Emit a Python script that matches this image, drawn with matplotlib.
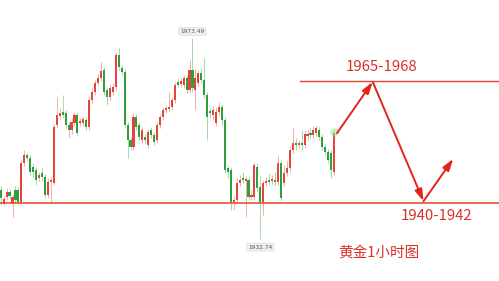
"""Gold 1h candlestick sketch with target arrows."""
import matplotlib

matplotlib.use("Agg")
import matplotlib.pyplot as plt
import numpy as np

# OHLC, one entry per hourly candle
opens = [
    1942.7, 1940.0, 1941.3, 1942.3, 1940.0, 1942.7, 1942.7, 1940.2, 1948.2, 1949.8,
    1949.2, 1947.3, 1946.7, 1945.1, 1946.1, 1945.3, 1941.7, 1944.3, 1944.1, 1955.9,
    1957.7, 1958.5, 1958.3, 1955.9, 1954.8, 1956.3, 1957.9, 1956.3, 1956.3, 1956.9,
    1955.5, 1960.9, 1962.5, 1964.4, 1965.4, 1967.0, 1962.9, 1961.5, 1962.5, 1963.6,
    1970.0, 1967.4, 1966.6, 1955.9, 1952.8, 1951.4, 1957.5, 1955.9, 1952.8, 1953.4,
    1951.8, 1954.8, 1953.8, 1952.8, 1955.9, 1957.5, 1958.9, 1959.1, 1959.5, 1960.9,
    1964.6, 1964.2, 1964.0, 1965.4, 1962.9, 1967.0, 1962.9, 1964.4, 1966.4, 1965.0,
    1961.9, 1958.5, 1957.9, 1956.3, 1958.5, 1959.5, 1956.9, 1947.1, 1946.7, 1940.2,
    1940.7, 1944.1, 1945.1, 1944.5, 1944.7, 1941.3, 1941.3, 1947.3, 1943.3, 1940.2,
    1944.1, 1944.7, 1944.5, 1944.7, 1944.3, 1948.2, 1944.1, 1946.1, 1947.1, 1950.8,
    1952.2, 1951.8, 1952.0, 1951.8, 1953.6, 1954.2, 1953.8, 1954.2, 1954.8, 1953.4,
    1951.4, 1950.4, 1950.2, 1946.3,
]
closes = [
    1941.1, 1940.9, 1942.3, 1941.5, 1941.3, 1940.7, 1940.2, 1948.2, 1949.8, 1949.2,
    1946.3, 1946.3, 1944.7, 1945.7, 1945.3, 1941.7, 1944.3, 1944.7, 1955.5, 1957.9,
    1958.3, 1957.9, 1955.9, 1954.8, 1956.5, 1957.9, 1954.2, 1956.5, 1957.1, 1955.5,
    1960.9, 1962.5, 1964.4, 1965.4, 1966.8, 1962.5, 1961.5, 1963.4, 1963.6, 1970.0,
    1967.6, 1966.6, 1955.9, 1952.8, 1951.4, 1957.5, 1955.5, 1953.4, 1954.8, 1952.8,
    1954.4, 1953.8, 1952.4, 1955.9, 1957.5, 1958.9, 1959.3, 1959.5, 1960.9, 1964.0,
    1964.0, 1964.8, 1965.4, 1962.9, 1967.0, 1963.4, 1965.4, 1966.4, 1965.0, 1961.9,
    1957.5, 1958.3, 1958.9, 1958.5, 1959.5, 1956.9, 1946.7, 1946.3, 1940.2, 1940.7,
    1944.1, 1944.7, 1944.7, 1944.7, 1941.3, 1941.7, 1947.7, 1943.1, 1940.2, 1944.1,
    1944.5, 1944.3, 1944.7, 1944.3, 1948.2, 1941.1, 1946.1, 1947.1, 1950.8, 1952.2,
    1951.8, 1952.0, 1951.8, 1954.0, 1954.0, 1953.8, 1954.8, 1955.2, 1953.4, 1951.4,
    1950.4, 1948.8, 1946.7, 1954.2,
]
highs = [
    1943.5, 1941.5, 1943.1, 1942.9, 1941.9, 1943.5, 1943.3, 1948.8, 1950.8, 1950.4,
    1949.8, 1948.2, 1947.3, 1946.3, 1947.3, 1945.9, 1945.1, 1945.3, 1956.1, 1961.5,
    1959.3, 1961.9, 1958.9, 1956.5, 1957.3, 1958.5, 1958.5, 1957.3, 1957.7, 1957.5,
    1961.5, 1963.4, 1965.0, 1966.2, 1968.6, 1967.6, 1963.6, 1964.2, 1964.4, 1970.7,
    1971.5, 1968.0, 1967.2, 1956.5, 1953.4, 1958.3, 1958.1, 1956.5, 1955.5, 1954.0,
    1955.0, 1955.5, 1954.4, 1956.5, 1958.1, 1959.5, 1959.9, 1962.5, 1961.5, 1964.6,
    1965.2, 1965.4, 1966.0, 1966.0, 1969.0, 1973.49, 1967.4, 1967.0, 1967.4, 1969.4,
    1962.5, 1959.3, 1959.7, 1959.3, 1960.5, 1960.1, 1957.5, 1947.7, 1947.3, 1941.5,
    1945.1, 1945.7, 1946.3, 1945.5, 1945.3, 1942.7, 1948.4, 1948.2, 1945.7, 1944.7,
    1945.3, 1946.1, 1945.7, 1946.3, 1949.8, 1948.8, 1947.7, 1948.8, 1951.6, 1955.2,
    1953.2, 1952.8, 1954.8, 1954.8, 1954.8, 1955.2, 1955.7, 1955.9, 1955.5, 1954.0,
    1952.0, 1951.0, 1950.8, 1954.8,
]
lows = [
    1939.6, 1939.4, 1940.7, 1940.9, 1937.2, 1940.0, 1939.8, 1939.8, 1947.5, 1948.6,
    1945.7, 1945.1, 1943.7, 1944.5, 1944.7, 1941.1, 1941.1, 1940.2, 1943.7, 1955.2,
    1957.1, 1957.3, 1955.2, 1953.2, 1954.0, 1955.7, 1953.6, 1955.7, 1955.7, 1954.8,
    1954.8, 1960.3, 1961.9, 1963.8, 1964.8, 1961.9, 1959.9, 1960.9, 1961.9, 1962.9,
    1967.0, 1966.0, 1955.2, 1949.2, 1950.8, 1950.8, 1954.8, 1952.8, 1952.2, 1952.2,
    1951.2, 1953.2, 1951.8, 1952.2, 1955.2, 1956.9, 1958.3, 1958.5, 1958.9, 1960.3,
    1963.4, 1963.6, 1963.4, 1962.3, 1962.3, 1962.5, 1958.9, 1963.8, 1964.4, 1961.3,
    1952.8, 1957.3, 1956.9, 1955.7, 1957.9, 1955.9, 1946.1, 1945.1, 1938.6, 1938.6,
    1940.0, 1943.5, 1944.1, 1937.2, 1940.7, 1940.7, 1940.7, 1942.3, 1932.74, 1937.6,
    1943.5, 1943.7, 1943.9, 1943.5, 1943.7, 1940.5, 1943.5, 1945.5, 1946.3, 1950.2,
    1950.8, 1951.2, 1950.8, 1951.2, 1952.8, 1953.2, 1953.2, 1953.6, 1952.8, 1950.8,
    1949.8, 1948.2, 1945.1, 1945.7,
]

resistance = 1964.8
support = 1940.1
resistance_start = 101.5

# projected path: up to resistance, down to support, bounce
path_x = [114.0, 126.1, 143.3, 153.4]
path_y = [1954.2, 1964.6, 1940.4, 1949.0]

peak_label = "1973.49"
trough_label = "1932.74"
top_text = "1965-1968"
bottom_text = "1940-1942"
title_text = "黄金1小时图"

UP = "#e5443a"
DOWN = "#2f9e3c"
UP_WICK = "#f2b0aa"
DOWN_WICK = "#a8d8a8"
LINE = "#e2432c"
TXT = "#d8322a"

o = np.array(opens)
c = np.array(closes)
h = np.array(highs)
l = np.array(lows)
x = np.arange(len(o))
up = c >= o

fig = plt.figure(figsize=(4.99, 2.81), dpi=100)
ax = fig.add_axes([0, 0, 1, 1])
ax.set_xlim(-0.24, 168.9)
ax.set_ylim(1924.23, 1981.19)
ax.axis("off")

ax.vlines(x[up], l[up], h[up], color=UP_WICK, lw=0.7, zorder=1)
ax.vlines(x[~up], l[~up], h[~up], color=DOWN_WICK, lw=0.7, zorder=1)
body = np.maximum(np.abs(c - o), 0.35)
bottom = np.minimum(o, c)
ax.bar(x[up], body[up], bottom=bottom[up], width=0.72, color=UP, lw=0, zorder=2)
ax.bar(x[~up], body[~up], bottom=bottom[~up], width=0.72, color=DOWN, lw=0, zorder=2)

# glow on last candle
ax.scatter([x[-1]], [h[-1] - 0.4], s=40, color="#8fe88f", alpha=0.5, lw=0, zorder=3)

ax.axhline(support, color=LINE, lw=1.1, zorder=4)
ax.plot([resistance_start, 168.9], [resistance, resistance], color=LINE, lw=1.0, zorder=4)

for i in range(len(path_x) - 1):
    ax.annotate("", xy=(path_x[i + 1], path_y[i + 1]), xytext=(path_x[i], path_y[i]),
                arrowprops=dict(arrowstyle="-|>,head_length=0.7,head_width=0.22",
                                color="#e0261c", lw=1.4, shrinkA=0, shrinkB=0),
                zorder=5)

cjk = ["Noto Sans CJK SC", "DejaVu Sans"]
ax.text(129.2, 1967.6, top_text, color=TXT, fontsize=10.8, family=cjk,
        ha="center", va="center")
ax.text(147.8, 1937.4, bottom_text, color=TXT, fontsize=10.8, family=cjk,
        ha="center", va="center")
ax.text(128.1, 1929.8, title_text, color=TXT, fontsize=10.5, family=cjk,
        ha="center", va="center")

box = dict(boxstyle="round,pad=0.25", fc="#f0f0f0", ec="#dcdcdc", lw=0.5)
i_hi = int(np.argmax(h))
i_lo = int(np.argmin(l))
ax.annotate(peak_label, xy=(i_hi, h[i_hi]), xytext=(0, 3), textcoords="offset points",
            ha="center", va="bottom", fontsize=4.2, color="#555555", bbox=box)
ax.annotate(trough_label, xy=(i_lo, l[i_lo]), xytext=(0, -4), textcoords="offset points",
            ha="center", va="top", fontsize=4.2, color="#555555", bbox=box)

fig.savefig("out.png", dpi=100, facecolor="white")
